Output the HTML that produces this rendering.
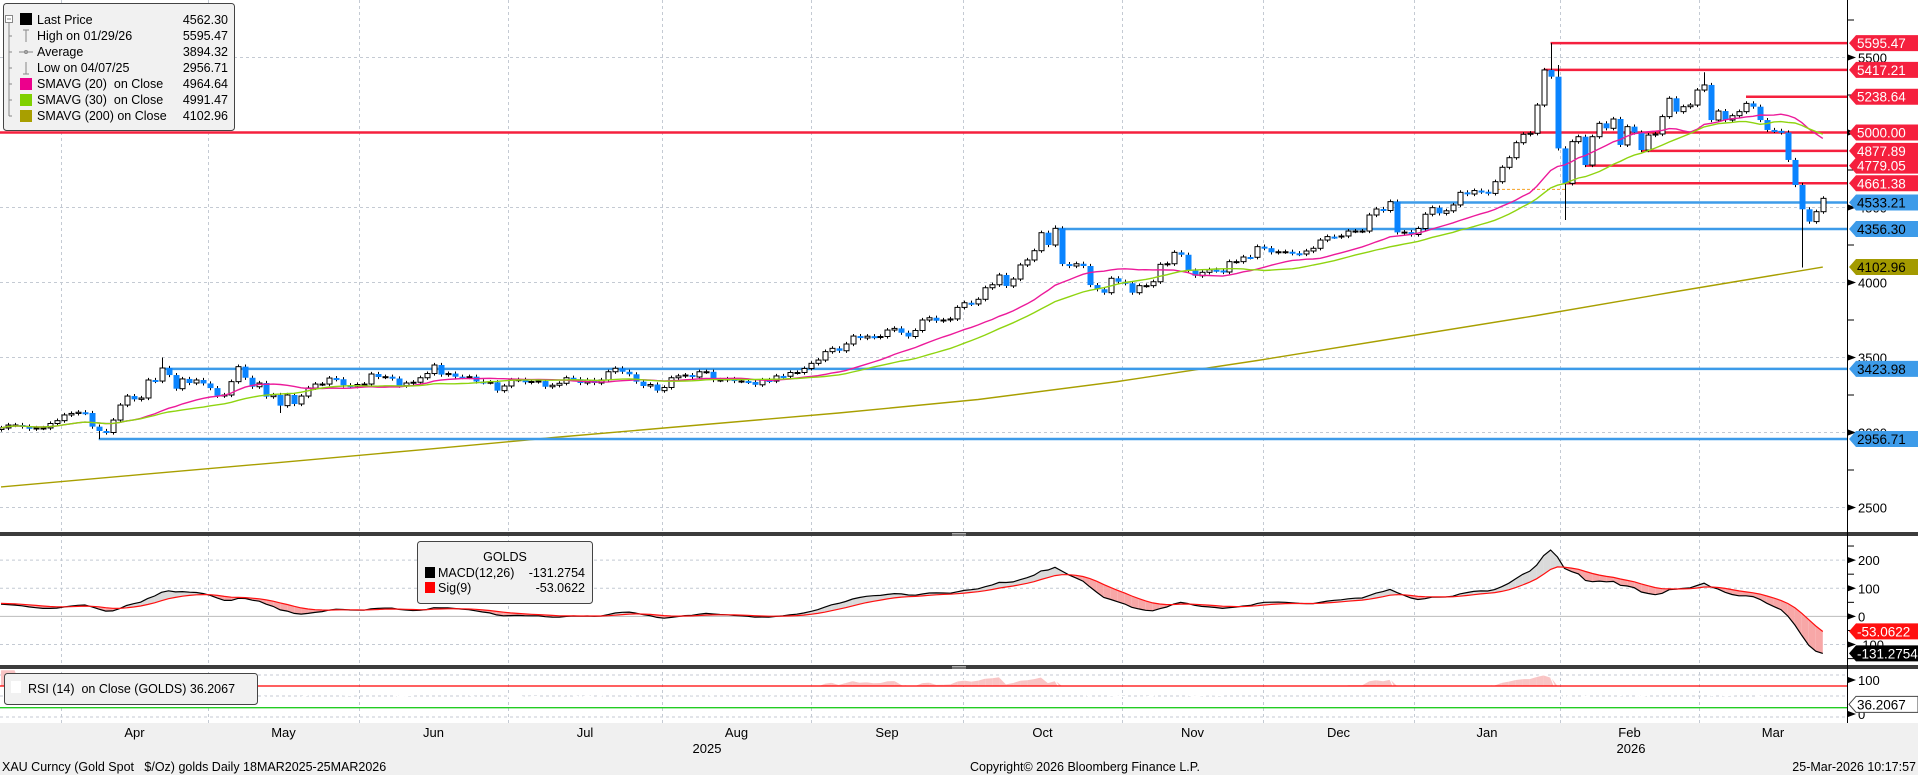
<!DOCTYPE html>
<html><head><meta charset="utf-8"><style>
html,body{margin:0;padding:0;background:#fff;}
svg{display:block;font-family:"Liberation Sans",sans-serif;}
</style></head><body>
<svg id="chart" width="1918" height="775" viewBox="0 0 1918 775" xmlns="http://www.w3.org/2000/svg">
<defs>
<clipPath id="cpPrice"><rect x="0" y="0" width="1847" height="532"/></clipPath>
<clipPath id="cpMacd"><rect x="0" y="536" width="1847" height="129"/></clipPath>
<clipPath id="cpRsi"><rect x="0" y="669" width="1847" height="54"/></clipPath>
</defs>
<rect x="0" y="0" width="1918" height="775" fill="#fff"/>
<g id="grid"></g>
<g id="pricePanel" clip-path="url(#cpPrice)"></g>
<g id="macdPanel" clip-path="url(#cpMacd)"></g>
<g id="rsiPanel" clip-path="url(#cpRsi)"></g>
<rect x="0" y="723" width="1918" height="52" fill="#f0f0f0"/>
<rect x="0" y="532" width="1918" height="4" fill="#3c3c3c"/>
<rect x="0" y="665" width="1918" height="4" fill="#3c3c3c"/>
<g stroke="#aaa" stroke-width="1"><line x1="952" y1="533.5" x2="966" y2="533.5"/><line x1="952" y1="535" x2="966" y2="535"/><line x1="952" y1="666.5" x2="966" y2="666.5"/><line x1="952" y1="668" x2="966" y2="668"/></g>
<line x1="1847.5" y1="0" x2="1847.5" y2="723" stroke="#000" stroke-width="1"/>
<g id="axis"></g>
<g id="xaxis" font-size="13" fill="#000"></g>

<g font-size="12.5">
<rect x="3.5" y="3.5" width="231" height="127" rx="3" fill="#f1f1f1" stroke="#444"/>
<g stroke="#888" stroke-width="1" fill="none">
<rect x="5.5" y="15.5" width="7" height="7" fill="#fff"/><line x1="7" y1="19" x2="11" y2="19"/>
<line x1="9" y1="23" x2="9" y2="116"/>
<line x1="9" y1="36" x2="12" y2="36"/><line x1="9" y1="52" x2="12" y2="52"/><line x1="9" y1="68" x2="12" y2="68"/><line x1="9" y1="84" x2="12" y2="84"/><line x1="9" y1="100" x2="12" y2="100"/><line x1="9" y1="116" x2="12" y2="116"/>
<line x1="26" y1="30" x2="26" y2="42"/><line x1="23" y1="30" x2="29" y2="30"/>
<line x1="19" y1="52" x2="33" y2="52"/><circle cx="26" cy="52" r="1.5"/>
<line x1="26" y1="62" x2="26" y2="74"/><line x1="23" y1="74" x2="29" y2="74"/>
</g>
<rect x="20" y="13" width="12" height="12" fill="#000"/>
<rect x="20" y="78" width="12" height="12" fill="#ec008c"/>
<rect x="20" y="94" width="12" height="12" fill="#7fd000"/>
<rect x="20" y="110" width="12" height="12" fill="#a89f00"/>
<text x="37" y="24">Last Price</text><text x="228" y="24" text-anchor="end">4562.30</text>
<text x="37" y="40">High on 01/29/26</text><text x="228" y="40" text-anchor="end">5595.47</text>
<text x="37" y="56">Average</text><text x="228" y="56" text-anchor="end">3894.32</text>
<text x="37" y="72">Low on 04/07/25</text><text x="228" y="72" text-anchor="end">2956.71</text>
<text x="37" y="88" xml:space="preserve">SMAVG (20)  on Close</text><text x="228" y="88" text-anchor="end">4964.64</text>
<text x="37" y="104" xml:space="preserve">SMAVG (30)  on Close</text><text x="228" y="104" text-anchor="end">4991.47</text>
<text x="37" y="120" xml:space="preserve">SMAVG (200) on Close</text><text x="228" y="120" text-anchor="end">4102.96</text>
</g>

<g font-size="12.5">
<rect x="417.5" y="541.5" width="175" height="62" rx="3" fill="#f1f1f1" stroke="#444"/>
<text x="505" y="561" text-anchor="middle">GOLDS</text>
<rect x="425" y="567" width="10" height="11" fill="#000"/>
<text x="438" y="577">MACD(12,26)</text><text x="585" y="577" text-anchor="end">-131.2754</text>
<rect x="425" y="582" width="10" height="11" fill="#ff0000"/>
<text x="438" y="592">Sig(9)</text><text x="585" y="592" text-anchor="end">-53.0622</text>
</g>
<g font-size="12.5">
<rect x="4.5" y="673.5" width="253" height="31" rx="3" fill="#f1f1f1" stroke="#444"/>
<rect x="11" y="681" width="10" height="12" fill="#fff"/>
<text x="28" y="693" xml:space="preserve">RSI (14)  on Close (GOLDS) 36.2067</text>
</g>

<g font-size="12.5" fill="#000">
<text x="2" y="771" xml:space="preserve">XAU Curncy (Gold Spot   $/Oz) golds Daily 18MAR2025-25MAR2026</text>
<text x="970" y="771">Copyright© 2026 Bloomberg Finance L.P.</text>
<text x="1916" y="771" text-anchor="end">25-Mar-2026 10:17:57</text>
</g>
</svg>
<script>
// ---- data ----
const closes = [
3030,3050,3050,3040,3025,3030,3030,3060,3079,3117,3127,3135,3130,3039,3010,3000,3083,3183,3243,3221,
3230,3350,3343,3430,3383,3292,3357,3330,3350,3327,3296,3245,3250,3339,3439,3365,3305,3330,3239,3250,
3179,3250,3190,3243,3297,3323,3323,3363,3355,3315,3308,3320,3323,3390,3370,3372,3360,3312,3330,3335,
3365,3393,3450,3386,3393,3372,3370,3372,3340,
3335,3335,3279,3310,3350,3352,3335,3340,3343,3305,3315,3328,3365,3355,3330,3350,3330,3350,3405,3428,
3405,3388,3339,3310,3320,3279,3300,3365,3377,3383,3370,3405,3405,3350,3350,3357,3343,3343,3337,3318,
3350,3343,3377,3375,3400,3400,3427,3461,3483,3539,3561,3545,3590,3643,3630,3642,3635,3640,3683,3694,
3665,3640,3680,3750,3765,3745,3750,3757,3834,
3865,3857,3888,3965,3985,4050,3977,4023,4117,4150,4212,4332,4250,4361,4123,4110,4125,4110,3983,3955,
3932,4028,4005,3995,3932,3979,3979,4005,4121,4125,4201,4185,4079,4045,4068,4085,4080,4070,4139,4139,
4170,4168,4239,4229,4201,4205,4205,4195,4190,4210,4228,4283,4306,4305,4310,4343,4343,4343,4450,4490,
4480,4539,4334,4336,4320,4360,4455,4499,
4461,4478,4517,4601,4590,4613,4605,4594,4672,4768,4832,4932,4988,4995,5183,5417,5372,4894,4661,4939,
4972,4783,4972,5061,5028,5090,4917,5039,5000,4883,4983,4990,5106,5228,5139,5172,5183,5283,5317,5083,
5143,5083,5112,5139,5194,5172,5083,5017,5011,5000,4817,4650,4488,4406,4472,4561];
const firstOpen = 3020;
const wickSize = 14;
const highIdx = [23, 151, 222, 223, 244];
const highVal = [3500, 4381, 5595.47, 5450, 5402];
const lowIdx = [14, 40, 224, 258];
const lowVal = [2956.71, 3130, 4417, 4100];
const sma200Idx = [0,20,40,60,80,100,120,140,160,180,200,220,240,261];
const sma200Val = [2637,2719,2801,2884,2970,3050,3130,3220,3340,3480,3630,3780,3940,4102.96];
const levelVals = [5595.47,5417.21,5238.64,5000.00,4877.89,4779.05,4661.38,4533.21,4356.30,3423.98,2956.71];
const levelStartIdx = [222,221,250,0,235,227,224,199,151,23,14];
const levelKind = ['r','r','r','r','r','r','r','b','b','b','b'];
const priceTicks = [2500,3000,3500,4000,4500,5000,5500];
const macdTicks = [-100,0,100,200];
const monthLabels = ['Apr','May','Jun','Jul','Aug','Sep','Oct','Nov','Dec','Jan','Feb','Mar'];
const monthStartIdx = [9,30,51,72,94,116,138,161,181,202,223,243];
const macdSeed = 47;
const macdLast = -131.2754, sigLast = -53.0622, rsiLast = 36.2067;

// ---- scales ----
const N = closes.length;
const X0 = 1, DX = 6.98;
function x(i){ return X0 + i*DX; }
function yP(v){ return 282.5 - (v-4000)*0.15; }
function yM(v){ return 616.4 - v*0.2815; }
function yR(v){ return 686 + (70-v)*0.5425; }
const NS='http://www.w3.org/2000/svg';
function mk(tag, attrs, parent){ const e=document.createElementNS(NS,tag); for(const k in attrs) e.setAttribute(k,attrs[k]); parent.appendChild(e); return e; }

const grid=document.getElementById('grid');
const pp=document.getElementById('pricePanel');
const mp=document.getElementById('macdPanel');
const rp=document.getElementById('rsiPanel');
const ax=document.getElementById('axis');
const xa=document.getElementById('xaxis');

// month gridlines
const monthBounds=[61,208,359,508,662,811,963,1122,1263,1414,1560,1699];
monthBounds.forEach(b=>{
  const l=mk('line',{x1:b+0.5,y1:0,x2:b+0.5,y2:723,stroke:'#c4cad3','stroke-dasharray':'3,3'},grid);
  
  
});
priceTicks.forEach(v=>{
  const l=mk('line',{x1:0,y1:yP(v),x2:1847,y2:yP(v),stroke:'#c4cad3','stroke-dasharray':'3,3'},grid);
  
  
});
macdTicks.forEach(v=>{
  const l=mk('line',{x1:0,y1:yM(v),x2:1847,y2:yM(v),stroke:v===0?'#bbb':'#c4cad3','stroke-dasharray':v===0?'none':'3,3'},grid);
  
  
});
[675,696,717].forEach(yy=>{
  const l=mk('line',{x1:0,y1:yy,x2:1847,y2:yy,stroke:'#c4cad3','stroke-dasharray':'3,3'},grid);
  
  
});

// SMA helpers
function sma(n){ const out=[]; for(let i=0;i<N;i++){ let s=0,c=0; for(let j=Math.max(0,i-n+1);j<=i;j++){s+=closes[j];c++;} out.push(s/c);} return out; }
function pathFrom(arr, yf, xs){ return arr.map((v,i)=>(i?'L':'M')+(xs?xs[i]:x(i)).toFixed(1)+','+yf(v).toFixed(1)).join(''); }

// SMA200
let s200=mk('path',{d:pathFrom(sma200Val,yP,sma200Idx.map(x)),fill:'none',stroke:'#a89f00','stroke-width':1.4},pp);



// level lines
levelVals.forEach((v,k)=>{
  const l=mk('line',{x1:levelStartIdx[k]===0?0:x(levelStartIdx[k]),y1:yP(v),x2:1847,y2:yP(v),stroke:levelKind[k]==='r'?'#f5203e':'#3d9be9','stroke-width':2.5},pp);
  
  
});
let od=mk('line',{x1:1497,y1:yP(4621),x2:1567,y2:yP(4621),stroke:'#f5a020','stroke-dasharray':'3,2','stroke-width':1},pp);



// candles
for(let i=0;i<N;i++){
  const o=i?closes[i-1]:firstOpen, c=closes[i];
  let h=Math.max(o,c)+wickSize, l=Math.min(o,c)-wickSize;
  const hi=highIdx.indexOf(i); if(hi>=0) h=highVal[hi];
  const li=lowIdx.indexOf(i); if(li>=0) l=lowVal[li];
  const g=mk('g',{},pp);
  
  
  const cx=Math.round(x(i))+0.5;
  mk('line',{x1:cx,y1:yP(h),x2:cx,y2:yP(l),stroke:'#000','stroke-width':1},g);
  const top=yP(Math.max(o,c)), bot=yP(Math.min(o,c));
  if(c>=o) mk('rect',{x:cx-2.5,y:top,width:5,height:Math.max(1,bot-top),fill:'#fff',stroke:'#000','stroke-width':1},g);
  else mk('rect',{x:cx-3,y:top,width:6,height:Math.max(2,bot-top),fill:'#0a84ff'},g);
}
// SMA20/30
let s20=mk('path',{d:pathFrom(sma(20),yP),fill:'none',stroke:'#ec1a9a','stroke-width':1.4},pp);


let s30=mk('path',{d:pathFrom(sma(30),yP),fill:'none',stroke:'#8fd410','stroke-width':1.4},pp);



// MACD
const macd=[], sig=[];
{ let e12=closes[0], e26=closes[0]-macdSeed, s=macdSeed;
  const a12=2/13,a26=2/27,a9=2/10;
  for(let i=0;i<N;i++){ e12+=a12*(closes[i]-e12); e26+=a26*(closes[i]-e26); const m=e12-e26; s+=a9*(m-s); macd.push(m); sig.push(s);} }
for(let i=1;i<N;i++){
  const up=(macd[i]+macd[i-1])>=(sig[i]+sig[i-1]);
  const p=mk('polygon',{points:[x(i-1),yM(macd[i-1]),x(i),yM(macd[i]),x(i),yM(sig[i]),x(i-1),yM(sig[i-1])].map(v=>v.toFixed(1)).join(' '),fill:up?'#dadada':'#f7a7a7',stroke:'none'},mp);
  
  
}
let ml=mk('path',{d:pathFrom(macd,yM),fill:'none',stroke:'#000','stroke-width':1.2},mp);


let sl=mk('path',{d:pathFrom(sig,yM),fill:'none',stroke:'#ff1010','stroke-width':1.2},mp);



// RSI
const rsi=[]; { let ag=0,al=0; for(let i=0;i<N;i++){ const d=i?closes[i]-closes[i-1]:0; const g=Math.max(d,0), l=Math.max(-d,0);
  if(i<=14){ ag+=g/14; al+=l/14; } else { ag=(ag*13+g)/14; al=(al*13+l)/14; }
  rsi.push(al===0?100:100-100/(1+ag/al)); } }
for(let i=1;i<N;i++){
  if(rsi[i]>70||rsi[i-1]>70){
    const a=Math.max(rsi[i-1],70), b=Math.max(rsi[i],70);
    const p=mk('polygon',{points:[x(i-1),yR(70),x(i-1),yR(a),x(i),yR(b),x(i),yR(70)].map(v=>v.toFixed(1)).join(' '),fill:'#f9c4c4'},rp);
    
    
  }
}
let rl=mk('path',{d:pathFrom(rsi,yR),fill:'none',stroke:'#fff','stroke-width':1.2},rp);


let r70=mk('line',{x1:0,y1:yR(70),x2:1847,y2:yR(70),stroke:'#ff0000','stroke-width':1.3},rp);


let r30=mk('line',{x1:0,y1:yR(30),x2:1847,y2:yR(30),stroke:'#22cc22','stroke-width':1.3},rp);



// right axis ticks
function tickMark(yy,major){
  if(major){ mk('polygon',{points:`1848,${yy-3} 1856,${yy} 1848,${yy+3}`,fill:'#000'},ax); }
  else mk('line',{x1:1848,y1:yy,x2:1854,y2:yy,stroke:'#000'},ax);
}
for(let v=2500;v<=5750;v+=250){ if(yP(v)>0&&yP(v)<532) tickMark(yP(v), v%500===0); }
priceTicks.forEach(v=>{
  const t=mk('text',{x:1858,y:yP(v)+5,'font-size':13},ax); t.textContent=String(v);
  
  
});
for(let v=-150;v<=250;v+=50){ if(yM(v)>536&&yM(v)<665) tickMark(yM(v), v%100===0); }
macdTicks.forEach(v=>{
  const t=mk('text',{x:1858,y:yM(v)+5,'font-size':13},ax); t.textContent=String(v);
  
  
});
tickMark(680,true); tickMark(714,true);
[['100',680],['0',714]].forEach(([s,yy])=>{ const t=mk('text',{x:1858,y:yy+5,'font-size':13},ax); t.textContent=s;
  
   });

// value boxes
function valBox(v,yy,fill,tc,stroke){
  const g=mk('g',{},ax);
  
  
  mk('polygon',{points:`1849,${yy} 1856,${yy-8} 1918,${yy-8} 1918,${yy+8} 1856,${yy+8}`,fill:fill,stroke:stroke||'none'},g);
  const t=mk('text',{x:1857,y:yy+5,'font-size':13.5,fill:tc},g); t.textContent=v;
}
levelVals.forEach((v,k)=>{ valBox(v.toFixed(2), yP(v), levelKind[k]==='r'?'#f5203e':'#3d9be9', levelKind[k]==='r'?'#fff':'#000'); });
valBox('4102.96', yP(4102.96), '#a39a00', '#000');
valBox(sigLast.toFixed(4), yM(sigLast), '#ff1010', '#fff');
valBox(macdLast.toFixed(4), yM(macdLast), '#000', '#fff');
valBox(rsiLast.toFixed(4), yR(rsiLast), '#fff', '#000', '#444');

// x-axis labels
monthLabels.forEach((m,k)=>{
  const t=mk('text',{x:(monthBounds[k]+(monthBounds[k+1]||1847))/2,y:737,'text-anchor':'middle'},xa); t.textContent=m;
  
  
});
[['2025',707],['2026',1631]].forEach(([s,xx])=>{ const t=mk('text',{x:xx,y:753,'text-anchor':'middle'},xa); t.textContent=s;
  
   });
</script>
</body></html>
